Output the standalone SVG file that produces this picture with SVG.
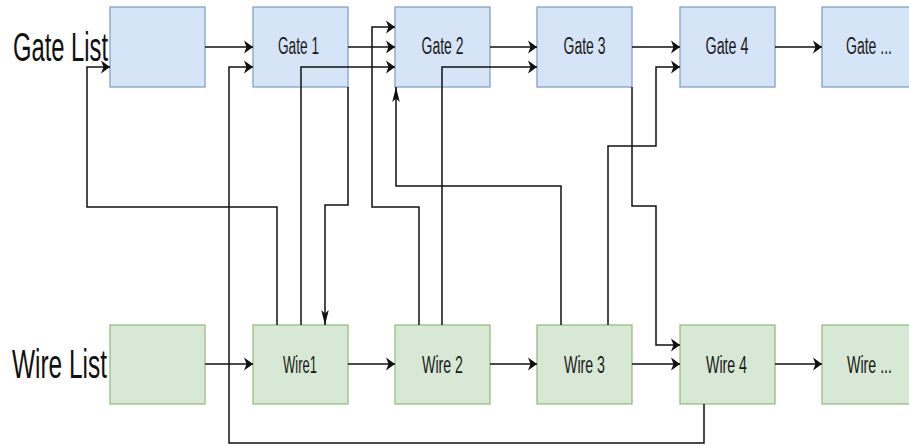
<svg xmlns="http://www.w3.org/2000/svg" width="909" height="446" viewBox="0 0 909 446">
<style>
.g{fill:#d6e4f7;stroke:#7b9ac4;stroke-width:1.2}
.w{fill:#d7e9d4;stroke:#8fba78;stroke-width:1.2}
.t{font-family:"Liberation Sans",Arial,sans-serif;font-size:23px;fill:#1a1a1a}
.big{font-family:"Liberation Sans",Arial,sans-serif;font-size:40px;fill:#111}
.c path{fill:none;stroke:#111;stroke-width:1.5}
.h{marker-end:url(#ar)}
</style>
<defs>
<marker id="ar" markerUnits="userSpaceOnUse" markerWidth="10" markerHeight="14" refX="9" refY="6.5" orient="0" overflow="visible"><path d="M0,0 L9,6.5 L0,13 L2.5,6.5 Z" fill="#111"/></marker>
<marker id="ad" markerUnits="userSpaceOnUse" markerWidth="8" markerHeight="16" refX="3.75" refY="15" orient="0" overflow="visible"><path d="M0,0 L3.75,3.5 L7.5,0 L3.75,15 Z" fill="#111"/></marker>
<marker id="au" markerUnits="userSpaceOnUse" markerWidth="8" markerHeight="16" refX="3.75" refY="0" orient="0" overflow="visible"><path d="M0,15 L3.75,11.5 L7.5,15 L3.75,0 Z" fill="#111"/></marker>
</defs>
<rect width="909" height="446" fill="#fff"/>
<text class="big" x="13" y="61" textLength="95" lengthAdjust="spacingAndGlyphs">Gate List</text>
<text class="big" x="12" y="378" textLength="95" lengthAdjust="spacingAndGlyphs">Wire List</text>
<g id="gatehead"><rect class="g" x="110" y="7" width="95" height="80"/></g>
<g id="gate1"><rect class="g" x="253" y="7" width="95" height="80"/><text class="t" x="278" y="54" textLength="41" lengthAdjust="spacingAndGlyphs">Gate 1</text></g>
<g id="gate2"><rect class="g" x="395" y="7" width="95" height="80"/><text class="t" x="421.5" y="54" textLength="42" lengthAdjust="spacingAndGlyphs">Gate 2</text></g>
<g id="gate3"><rect class="g" x="537" y="7" width="95" height="80"/><text class="t" x="563.5" y="54" textLength="42" lengthAdjust="spacingAndGlyphs">Gate 3</text></g>
<g id="gate4"><rect class="g" x="680" y="7" width="95" height="80"/><text class="t" x="705.5" y="54" textLength="43" lengthAdjust="spacingAndGlyphs">Gate 4</text></g>
<g id="gatemore"><rect class="g" x="822" y="7" width="95" height="80"/><text class="t" x="846" y="54" textLength="46" lengthAdjust="spacingAndGlyphs">Gate ...</text></g>
<g id="wirehead"><rect class="w" x="110" y="325" width="95" height="79"/></g>
<g id="wire1"><rect class="w" x="253" y="325" width="95" height="79"/><text class="t" x="283" y="373" textLength="34" lengthAdjust="spacingAndGlyphs">Wire1</text></g>
<g id="wire2"><rect class="w" x="395" y="325" width="95" height="79"/><text class="t" x="422" y="373" textLength="41" lengthAdjust="spacingAndGlyphs">Wire 2</text></g>
<g id="wire3"><rect class="w" x="537" y="325" width="95" height="79"/><text class="t" x="564" y="373" textLength="41" lengthAdjust="spacingAndGlyphs">Wire 3</text></g>
<g id="wire4"><rect class="w" x="680" y="325" width="95" height="79"/><text class="t" x="706" y="373" textLength="41" lengthAdjust="spacingAndGlyphs">Wire 4</text></g>
<g id="wiremore"><rect class="w" x="822" y="325" width="95" height="79"/><text class="t" x="847" y="373" textLength="45" lengthAdjust="spacingAndGlyphs">Wire ...</text></g>
<g id="connectors" class="c">
<path class="h" d="M205,47 H253"/>
<path class="h" d="M348,47 H395"/>
<path class="h" d="M490,47 H537"/>
<path class="h" d="M632,47 H680"/>
<path class="h" d="M775,47 H822"/>
<path class="h" d="M205,364 H253"/>
<path class="h" d="M348,364 H395"/>
<path class="h" d="M490,364 H537"/>
<path class="h" d="M632,364 H680"/>
<path class="h" d="M775,364 H822"/>
<path class="h" d="M277,325 V207 H87 V67 H110"/>
<path class="h" d="M704,404 V443 H229 V67 H253"/>
<path d="M348,87 V205 H325 V325" marker-end="url(#ad)"/>
<path class="h" d="M301,325 V67 H395"/>
<path class="h" d="M419,325 V207 H372 V27 H395"/>
<path d="M561,325 V186 H396 V87" marker-end="url(#au)"/>
<path class="h" d="M442,325 V67 H537"/>
<path class="h" d="M608,325 V146 H656 V67 H680"/>
<path class="h" d="M632,87 V206 H656 V345 H680"/>
</g>
</svg>
